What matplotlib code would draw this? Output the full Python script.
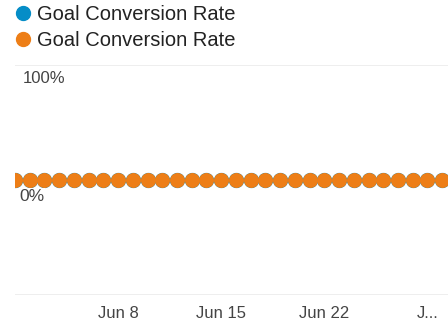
import datetime as dt
import matplotlib
matplotlib.use('Agg')
import matplotlib.pyplot as plt
import matplotlib.dates as mdates
from matplotlib.lines import Line2D

plt.rcParams['font.family'] = ['Liberation Sans', 'DejaVu Sans']

# data: one value per day in June, both series flat at 0%
days = [dt.date(2015, 6, d) for d in range(1, 31)]
series_a = [0.0] * 30   # Goal Conversion Rate (blue)
series_b = [0.0] * 30   # Goal Conversion Rate (orange)
series_names = ['Goal Conversion Rate', 'Goal Conversion Rate']
series_colors = ['#058DC7', '#ED7E17']
tick_days = [dt.date(2015, 6, 8), dt.date(2015, 6, 15), dt.date(2015, 6, 22), dt.date(2015, 6, 29)]
tick_labels = ['Jun 8', 'Jun 15', 'Jun 22', 'J...']

W, H = 448, 324
fig = plt.figure(figsize=(W / 100, H / 100), dpi=100)
ax = fig.add_axes([15 / W, 1 - 295 / H, 1 - 15 / W + 0.002, (295 - 65) / H])

# gridlines
for y in (1.0, 0.0, -1.0):
    ax.axhline(y, color='#ebebeb', lw=1.2, zorder=0)

ax.plot(days, series_a, color=series_colors[0], lw=2, marker='o', ms=10, zorder=2)
ax.plot(days, series_b, color=series_colors[1], lw=0, marker='o', ms=10.8,
        markeredgewidth=0, zorder=3)

ax.set_ylim(-1, 1)
ax.set_xlim(mdates.date2num(days[0]), mdates.date2num(days[0]) + (W - 15) / 14.7)
for s in ax.spines.values():
    s.set_visible(False)
ax.set_yticks([])
ax.set_xticks(tick_days)
ax.set_xticklabels(tick_labels, fontsize=12, color='#444444')
ax.tick_params(axis='x', length=0, pad=8)

# y labels sit just below their gridlines
ax.text(0.017, 0.95, '100%', transform=ax.get_yaxis_transform(), fontsize=12,
        color='#444444', va='top', ha='left')
zero = ax.text(0.01, -0.075, '0%', transform=ax.get_yaxis_transform(), fontsize=12.5,
               color='#444444', va='top', ha='left', zorder=4)
# white patch behind 0% label like the reference
zero.set_bbox(dict(facecolor='white', edgecolor='none', pad=0.5))

# legend
for i, (name, c) in enumerate(zip(series_names, series_colors)):
    y = 1 - (13 + 26 * i) / H
    fig.add_artist(Line2D([23 / W], [y], marker='o', ms=10, color=c, lw=0,
                          transform=fig.transFigure))
    fig.text(37 / W, y - 2 / H, name, fontsize=14.5, color='#222222', va='center', ha='left')

fig.savefig('out.png', dpi=100)
